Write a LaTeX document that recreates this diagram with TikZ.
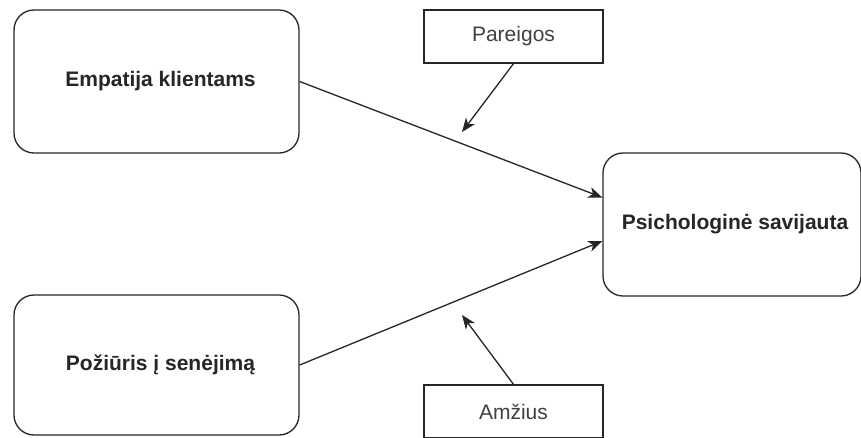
\documentclass[tikz,border=0pt]{standalone}
\usepackage{fontspec}
\setmainfont{Liberation Sans}
\usetikzlibrary{arrows.meta}
\begin{document}
\begin{tikzpicture}[x=1pt,y=-1pt,
  mainbox/.style={draw=black!85, line width=1.3pt, rounded corners=20pt, fill=white, inner sep=0pt,
     font=\fontsize{21}{24}\selectfont\bfseries, text=black!85},
  smallbox/.style={draw=black!85, line width=1.3pt, fill=white, inner sep=0pt,
     font=\fontsize{21}{24}\selectfont, text=black!75},
  conn/.style={draw=black!85, line width=1.3pt, -{Stealth[length=14pt,width=11pt,inset=4pt]}}]
\useasboundingbox[fill=white] (0,0) rectangle (861,437);
\begin{scope}
\clip (0,0) rectangle (861,437);
\node[mainbox, minimum width=285pt, minimum height=143pt] (e) at (156.5,81.5) {\hspace*{8pt}Empatija klientams};
\node[mainbox, minimum width=285pt, minimum height=140pt] (z) at (156.5,365) {\hspace*{8pt}Požiūris į senėjimą};
\node[mainbox, minimum width=258pt, minimum height=143pt] (p) at (732,224.5) {\hspace*{6pt}Psichologinė savijauta};
\node[smallbox, minimum width=179pt, minimum height=53pt] (par) at (513.5,36.5) {Pareigos};
\node[smallbox, minimum width=179pt, minimum height=53pt] (am) at (513.5,411.5) {Amžius};
\coordinate (pt) at (462,132);
\coordinate (at) at (462,315);
\draw[conn] (e.east) -- ([yshift=27pt]p.west);
\draw[conn] (z.east) -- ([yshift=-16.5pt]p.west);
\draw[conn] (par.south) -- (pt);
\draw[conn] (am.north) -- (at);
\end{scope}
\end{tikzpicture}
\end{document}
